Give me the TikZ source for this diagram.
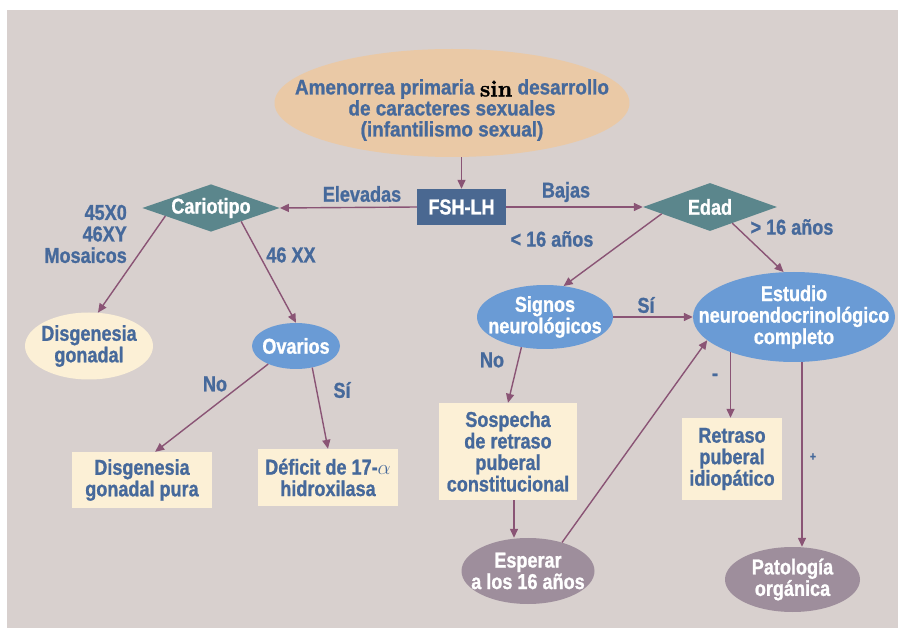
\documentclass[tikz,border=0pt]{standalone}
\usepackage{fontspec}
\setmainfont{Liberation Sans}[FakeStretch=0.84, BoldFeatures={FakeBold=1}]
\newfontfamily\titlefont{Liberation Sans}[FakeStretch=0.9, BoldFeatures={FakeBold=1}]
\newfontfamily\sinfont{lmroman10-bold}[Extension=.otf, FakeBold=1.5]
\usetikzlibrary{shapes.geometric,arrows.meta,calc}
\definecolor{bgc}{HTML}{D8D0CE}
\definecolor{peach}{HTML}{EAC9A6}
\definecolor{cream}{HTML}{FCF0D6}
\definecolor{tblue}{HTML}{46699B}
\definecolor{fshc}{HTML}{4A6891}
\definecolor{teal}{HTML}{5B868C}
\definecolor{lblue}{HTML}{6A9BD5}
\definecolor{grayp}{HTML}{9E8E9C}
\definecolor{arrc}{HTML}{8A5475}
\begin{document}
\begin{tikzpicture}[x=1pt,y=-1pt,
  txt/.style={font=\fontsize{21.5}{21.5}\selectfont\bfseries, text=tblue, align=center, inner sep=0pt},
  wtxt/.style={txt, text=white},
  ell/.style={ellipse, inner sep=0pt},
  boxn/.style={rectangle, inner sep=0pt, fill=cream, txt},
  dia/.style={diamond, inner sep=0pt, aspect=2.9, fill=teal, wtxt},
  arr/.style={draw=arrc, line width=1.4pt, -{Triangle[length=9pt,width=8pt]}},
  lbl/.style={txt}
]
\useasboundingbox (0,0) rectangle (898,628);
\fill[bgc] (7,10) rectangle (898,628);

% title
\node[ell, fill=peach, minimum width=355pt, minimum height=108pt] (title) at (452,103) {};
\node[txt, font=\titlefont\fontsize{21}{21}\selectfont\bfseries] (titletext) at (452,110)
  {Amenorrea primaria \raisebox{-2pt}{\color{black}\sinfont\fontsize{23}{23}\selectfont sin} desarrollo\\de caracteres sexuales\\(infantilismo sexual)};

% FSH-LH
\node[rectangle, fill=fshc, minimum width=89pt, minimum height=36pt, wtxt] (fsh) at (461.5,207) {FSH-LH};

% diamonds
\node[dia, minimum width=135pt, minimum height=47pt] (cario) at (211,208) {Cariotipo};
\node[dia, minimum width=134pt, minimum height=48pt] (edad) at (710,207) {Edad};

% left branch
\node[ell, fill=cream, minimum width=128pt, minimum height=67pt, label={[txt]center:{Disgenesia\\gonadal}}] (disg) at (89,346) {};
\node[ell, fill=lblue, minimum width=88pt, minimum height=46pt, label={[wtxt]center:{Ovarios}}] (ova) at (296,346) {};
\node[boxn, minimum width=140pt, minimum height=56pt] (pura) at (142,480) {Disgenesia\\gonadal pura};
\node[boxn, minimum width=140pt, minimum height=57pt] (def) at (328,477.5) {D\'eficit de 17-{\mdseries$\alpha$}\\hidroxilasa};

% right branch
\node[ell, fill=lblue, minimum width=136pt, minimum height=64pt, label={[wtxt]center:{Signos\\neurol\'ogicos}}] (signos) at (545,317) {};
\node[ell, fill=lblue, minimum width=202pt, minimum height=90pt, label={[wtxt]center:{Estudio\\neuroendocrinol\'ogico\\completo}}] (estudio) at (794,317) {};
\node[boxn, minimum width=138pt, minimum height=97pt] (sosp) at (508,451.5) {Sospecha\\de retraso\\puberal\\constitucional};
\node[boxn, minimum width=100pt, minimum height=82pt] (retraso) at (732,459) {Retraso\\puberal\\idiop\'atico};
\node[ell, fill=grayp, minimum width=133pt, minimum height=66pt, label={[wtxt]center:{Esperar\\a los 16 a\~nos}}] (esp) at (528,571) {};
\node[ell, fill=grayp, minimum width=135pt, minimum height=65pt, label={[wtxt]center:{Patolog\'ia\\org\'anica}}] (patol) at (792.5,579.5) {};

% labels
\node[lbl] (lelev) at (362,194) {Elevadas};
\node[lbl] (lbajas) at (566,192) {Bajas};
\node[lbl, align=right, anchor=east] (lkar) at (127,234) {45X0\\46XY\\Mosaicos};
\node[lbl] (lxx) at (291,255) {46 XX};
\node[lbl] (lno1) at (215,384) {No};
\node[lbl] (lsi1) at (342,390) {S\'i};
\node[lbl] (lmen) at (552,239) {< 16 a\~nos};
\node[lbl] (lmay) at (792,227) {> 16 a\~nos};
\node[lbl] (lsi2) at (646,305) {S\'i};
\node[lbl] (lno2) at (492,360) {No};
\node[lbl] (lminus) at (715,377) {-};
\node[lbl, font=\fontsize{12}{12}\selectfont\bfseries] (lplus) at (813,457) {+};

% connectors
\draw[arr] (title.south -| fsh.north) -- (fsh.north);
\draw[arr] (fsh.west) -- (cario.east);
\draw[arr] (fsh.east) -- (edad.west);
\draw[arr] (cario.190) -- (disg.75);
\draw[arr] (cario.336) -- (ova.north);
\draw[arr] (ova.213) -- (pura.65);
\draw[arr] (ova.307) -- (def.north);
\draw[arr] (edad.188) -- (signos.59);
\draw[arr] (edad.324) -- (estudio.103);
\draw[arr] (signos.east) -- (estudio.west);
\draw[arr] (signos.232) -- (sosp.north);
\draw[arr] ([xshift=6pt]sosp.south) -- ([xshift=6pt]sosp.south |- esp.north);
\draw[arr] (esp.40) -- (estudio.195);
\draw[arr] (estudio.209) -- (estudio.209 |- retraso.north);
\draw[arr] ([xshift=8pt]estudio.south) -- ([xshift=8pt]estudio.south |- patol.north);
\end{tikzpicture}
\end{document}
